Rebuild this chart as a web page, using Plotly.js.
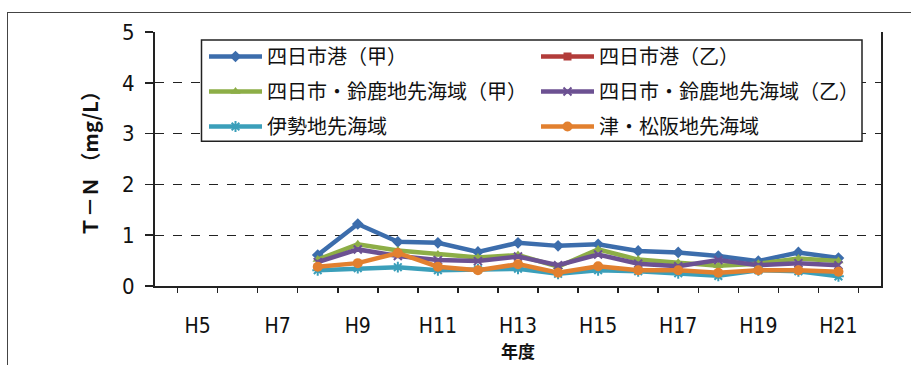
<!DOCTYPE html>
<html>
<head>
<meta charset="utf-8">
<script src="https://cdn.plot.ly/plotly-3.0.1.min.js"></script>
<style>
  html, body { margin: 0; padding: 0; background: #fff; overflow: hidden; }
  #frame { position: absolute; left: 7px; top: 12px; width: 1200px; height: 1200px;
           border-left: 1.5px solid #444; border-top: 1.5px solid #444; z-index: 0; }
  #chart { position: absolute; left: 0; top: 0; width: 911px; height: 365px; z-index: 1; }
</style>
</head>
<body>
<div id="frame"></div>
<div id="chart"></div>
<script>
// Categories (fiscal years)
var years = ['H5','H6','H7','H8','H9','H10','H11','H12','H13','H14','H15','H16','H17','H18','H19','H20','H21'];
var yearLabels = ['H5','','H7','','H9','','H11','','H13','','H15','','H17','','H19','','H21'];

// T-N (mg/L) series
var yokkaichiKou   = [null,null,null,0.61,1.22,0.87,0.85,0.67,0.85,0.79,0.82,0.69,0.66,0.59,0.49,0.66,0.55];
var yokkaichiOtsu  = [null,null,null,null,null,null,null,null,null,null,null,null,null,null,null,null,null];
var suzukaKou      = [null,null,null,0.52,0.82,0.70,0.62,0.56,0.61,0.38,0.72,0.52,0.46,0.40,0.44,0.54,0.49];
var suzukaOtsu     = [null,null,null,0.47,0.72,0.59,0.51,0.49,0.58,0.41,0.62,0.44,0.39,0.51,0.41,0.45,0.41];
var ise            = [null,null,null,0.31,0.35,0.37,0.31,0.33,0.34,0.24,0.31,0.29,0.25,0.20,0.31,0.29,0.19];
var tsuMatsusaka   = [null,null,null,0.38,0.45,0.65,0.38,0.31,0.43,0.26,0.39,0.31,0.31,0.26,0.31,0.31,0.28];

var seriesNames = ['四日市港（甲）','四日市港（乙）','四日市・鈴鹿地先海域（甲）','四日市・鈴鹿地先海域（乙）','伊勢地先海域','津・松阪地先海域'];
var yTitle = 'Ｔ－Ｎ （mg/L）';
var xTitle = '年度';

var L = 155, R = 881, T = 32, B = 285.7, W = 911, H = 365;
function px(x) { return (x - L) / (R - L); }
function py(y) { return (B - y) / (B - T); }

var cjk = '"Noto Sans CJK JP", "Noto Sans", sans-serif';
var narrow = '"Liberation Sans Narrow", "DejaVu Sans Condensed", "Liberation Sans", sans-serif';

function mk(name, y, color, symbol, size, legend, group, mline) {
  return {
    type: 'scatter', mode: 'lines+markers', name: name, x: years, y: y,
    legend: legend, legendgroup: group,
    line: {color: color, width: 4.5},
    marker: {color: color, symbol: symbol, size: size, line: mline || {width: 0}},
    connectgaps: false, hoverinfo: 'skip'
  };
}

var traces = [
  mk(seriesNames[0], yokkaichiKou, '#3C6DAC', 'diamond', 9, 'legend', 'a'),
  mk(seriesNames[2], suzukaKou, '#8DAE47', 'triangle-up', 9, 'legend', 'b'),
  mk(seriesNames[4], ise, '#3B9FBA', 'asterisk-open', 9, 'legend', 'c', {color: '#3B9FBA', width: 2}),
  mk(seriesNames[1], yokkaichiOtsu, '#B23C3A', 'square', 8, 'legend2', 'd'),
  mk(seriesNames[3], suzukaOtsu, '#6C5192', 'x-thin-open', 8, 'legend2', 'e', {color: '#6C5192', width: 2}),
  mk(seriesNames[5], tsuMatsusaka, '#E2802F', 'circle', 10, 'legend2', 'f')
];
traces = [traces[0], traces[3], traces[1], traces[4], traces[2], traces[5]];

var legendCommon = {
  yanchor: 'top', xanchor: 'left', bgcolor: 'rgba(0,0,0,0)', borderwidth: 0,
  font: {family: cjk, size: 20, color: '#111'}, itemwidth: 53,
  traceorder: 'grouped', tracegroupgap: 6
};

var layout = {
  width: W, height: H,
  margin: {l: L, r: W - R, t: T, b: H - B},
  paper_bgcolor: 'rgba(0,0,0,0)', plot_bgcolor: '#fff',
  showlegend: true,
  legend: Object.assign({x: px(204), y: py(37)}, legendCommon),
  legend2: Object.assign({x: px(536), y: py(37)}, legendCommon),
  xaxis: {
    type: 'category', tickmode: 'array', tickvals: years, ticktext: yearLabels,
    tickson: 'boundaries', ticks: 'outside', ticklen: 5, tickwidth: 1.5, tickcolor: '#222',
    showline: true, linecolor: '#222', linewidth: 2, showgrid: false, zeroline: false,
    tickangle: 0,
    tickfont: {family: narrow, size: 21, color: '#111'}, ticklabelstandoff: 20,
    title: {text: xTitle, font: {family: cjk, size: 17, color: '#111', weight: 'bold'}, standoff: 2},
    fixedrange: true, automargin: false
  },
  yaxis: {
    range: [0, 5], tickvals: [0,1,2,3,4,5], ticks: 'outside', ticklen: 8, tickwidth: 1.5, tickcolor: '#222',
    showline: true, mirror: true, linecolor: '#222', linewidth: 2,
    showgrid: true, gridcolor: '#222', gridwidth: 1.2, griddash: 'dash', zeroline: false,
    tickfont: {family: narrow, size: 22, color: '#111'}, ticklabelstandoff: 6,
    title: {text: yTitle, font: {family: cjk, size: 20, color: '#111', weight: 'bold'}, standoff: 18},
    fixedrange: true, automargin: false
  },
  shapes: [{
    type: 'rect', xref: 'paper', yref: 'paper',
    x0: px(201.5), x1: px(862), y0: py(141), y1: py(40),
    line: {color: '#222', width: 1.5}, fillcolor: '#fff', layer: 'above'
  }]
};

Plotly.newPlot('chart', traces, layout, {staticPlot: true, displayModeBar: false});
</script>
</body>
</html>
